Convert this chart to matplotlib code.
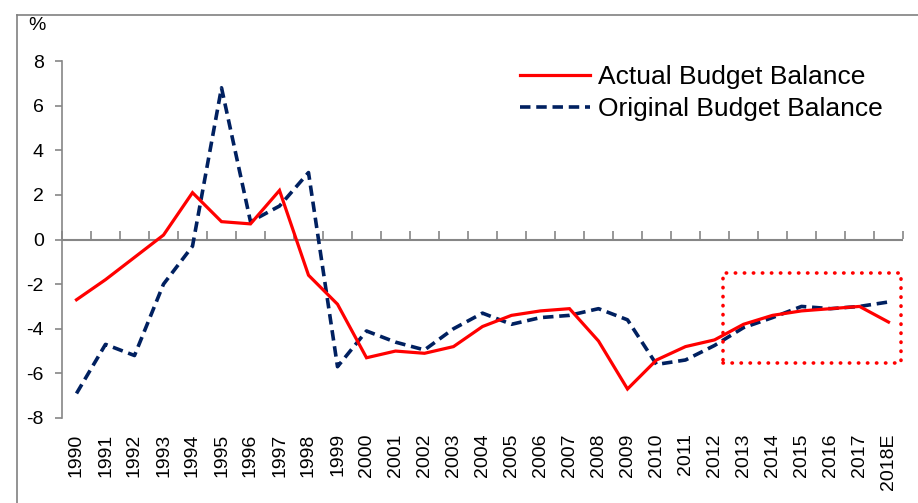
import matplotlib
matplotlib.use("Agg")
import matplotlib.pyplot as plt
from matplotlib.lines import Line2D
from matplotlib.patches import Rectangle

plt.rcParams['font.family'] = ['Liberation Sans', 'DejaVu Sans']
plt.rcParams['axes.unicode_minus'] = False

years = ['1990', '1991', '1992', '1993', '1994', '1995', '1996', '1997', '1998', '1999',
         '2000', '2001', '2002', '2003', '2004', '2005', '2006', '2007', '2008', '2009',
         '2010', '2011', '2012', '2013', '2014', '2015', '2016', '2017', '2018E']
actual = [-2.7, -1.8, -0.8, 0.2, 2.1, 0.8, 0.7, 2.2, -1.6, -2.9,
          -5.3, -5.0, -5.1, -4.8, -3.9, -3.4, -3.2, -3.1, -4.55, -6.7,
          -5.4, -4.8, -4.5, -3.8, -3.4, -3.2, -3.1, -3.0, -3.7]
original = [-6.9, -4.7, -5.2, -2.0, -0.3, 6.8, 0.8, 1.5, 3.0, -5.7,
            -4.1, -4.6, -4.95, -4.0, -3.3, -3.8, -3.5, -3.4, -3.1, -3.6,
            -5.6, -5.4, -4.75, -3.95, -3.5, -3.0, -3.1, -3.0, -2.8]
yticks = [-8, -6, -4, -2, 0, 2, 4, 6, 8]
highlight_start, highlight_end = '2013', '2018E'

W, H = 918, 503
fig = plt.figure(figsize=(W / 100, H / 100), dpi=100)
ax = fig.add_axes([62 / W, 1 - 418 / H, (903 - 62) / W, (418 - 61) / H])

gray = '#868686'
x = list(range(len(years)))
ax.axhline(0, color=gray, lw=1.5, zorder=1)
ax.plot(x, actual, color='#FF0000', lw=2.3, solid_joinstyle='miter',
        label='Actual Budget Balance', zorder=3)
ax.plot(x, original, color='#002060', lw=2.6, linestyle=(0, (2.9, 1.6)),
        label='Original Budget Balance', zorder=2)

ax.set_xlim(-0.5, len(years) - 0.5)
ax.set_ylim(-8, 8)
ax.set_yticks(yticks)
ax.set_yticklabels([str(v) for v in yticks])

for s in ['top', 'right', 'bottom']:
    ax.spines[s].set_visible(False)
ax.spines['left'].set_color(gray)
ax.spines['left'].set_linewidth(1.2)
ax.tick_params(axis='y', direction='out', length=5, width=1.2, color=gray,
               labelsize=14, pad=8, labelcolor='black')

ax.set_xticks(x)
ax.set_xticklabels(years, rotation=90)
ax.tick_params(axis='x', length=0, labelsize=14, pad=11)

# category boundary ticks on the zero line
sec = ax.secondary_xaxis(0.5)
for sp in sec.spines.values():
    sp.set_visible(False)
sec.set_xticks([i - 0.5 for i in range(len(years) + 1)])
sec.set_xticklabels([])
sec.tick_params(axis='x', direction='out', length=6, width=1.2, color=gray)

# dotted highlight box
i0 = years.index(highlight_start)
i1 = years.index(highlight_end)
rect = Rectangle((i0 - 0.7, -5.52), (i1 + 0.43) - (i0 - 0.7), 4.04, fill=False,
                 edgecolor='#FF0000', lw=2.6, linestyle=(0, (0.1, 2.4)),
                 capstyle='round', zorder=4)
ax.add_patch(rect)

leg = ax.legend(loc='upper left', bbox_to_anchor=(0.545, 0.989), frameon=False,
                fontsize=19, handlelength=2.65, handletextpad=0.3,
                labelspacing=0.3, borderaxespad=0.0, borderpad=0.0)

# frame lines
fig.add_artist(Line2D([17 / W, 17 / W], [0, 1 - 15 / H], transform=fig.transFigure,
                      color='#808080', lw=1.2))
fig.add_artist(Line2D([17 / W, 1], [1 - 15 / H, 1 - 15 / H], transform=fig.transFigure,
                      color='#808080', lw=1.2))
fig.text(37 / W, 1 - 25 / H, '%', ha='center', va='center', fontsize=14)

fig.savefig('out.png', dpi=100)
